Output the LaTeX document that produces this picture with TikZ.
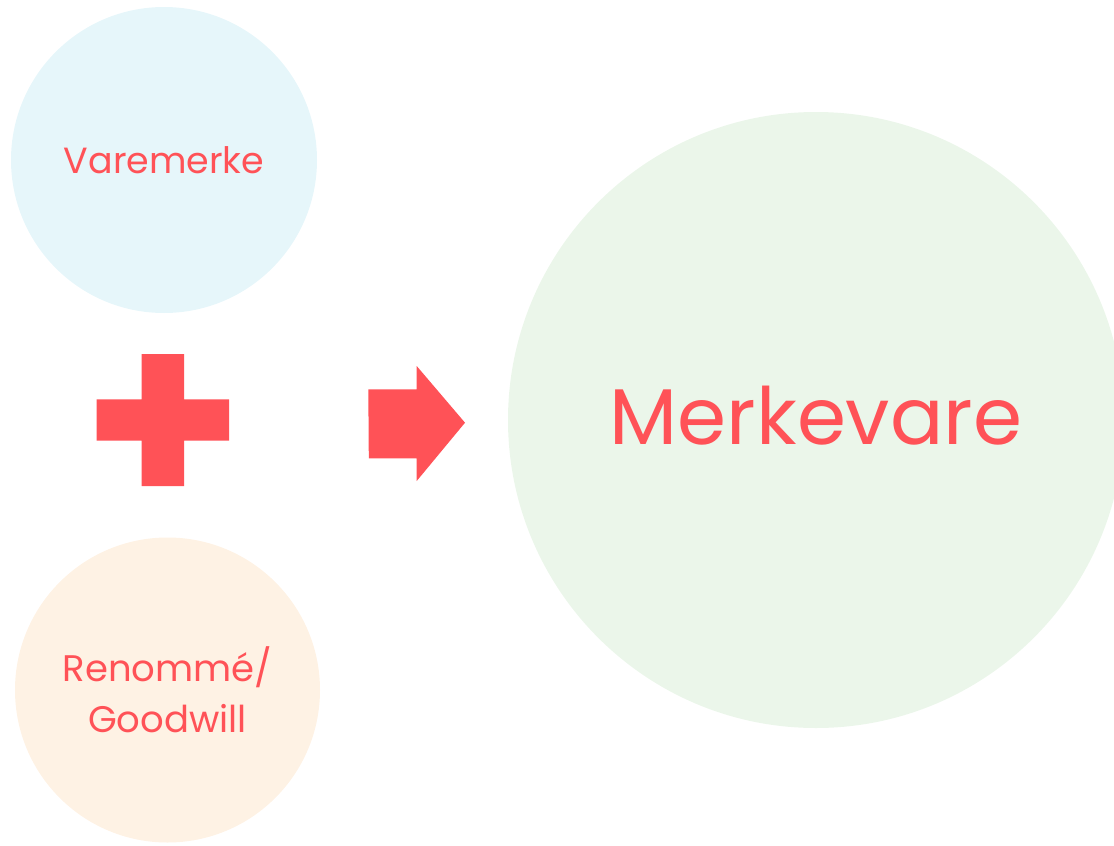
\documentclass[tikz,border=0pt]{standalone}
\usepackage{fontspec}
\setmainfont{Poppins}
\definecolor{brand}{HTML}{FF5257}
\definecolor{cblue}{HTML}{E6F6FA}
\definecolor{cpeach}{HTML}{FEF2E4}
\definecolor{cgreen}{HTML}{EBF6EA}
\begin{document}
\begin{tikzpicture}[x=1pt,y=-1pt,
  bubble/.style={circle,inner sep=0pt,text=brand,align=center},
  shapefill/.style={fill=brand,draw=none}]
\useasboundingbox (0,0) rectangle (1114,846);
\begin{scope}
\clip (0,0) rectangle (1114,846);
\node[bubble,fill=cblue,minimum size=306pt] (vm) at (164,160) {};
\node[bubble,fill=cpeach,minimum size=305pt] (rg) at (167.5,690) {};
\node[bubble,fill=cgreen,minimum size=616pt] (mv) at (816,420) {};
\end{scope}
\node[text=brand,font=\fontsize{36.4}{40}\selectfont] (vmt) at (164,160) {Varemerke};
\node[text=brand,align=center,font=\fontsize{37}{51}\selectfont] (rgt) at (167.5,690) {Renommé/\\Goodwill};
\node[text=brand,font=\fontsize{79}{90}\selectfont] (mvt) at (816,416) {Merkevare};
\fill[shapefill] (141.7,354) -- (184,354) -- (184,399.3) -- (229,399.3) -- (229,440.7) -- (184,440.7) -- (184,486) -- (141.7,486) -- (141.7,440.7) -- (96.7,440.7) -- (96.7,399.3) -- (141.7,399.3) -- cycle;
\fill[shapefill] (368.3,389.3) -- (416.7,389.3) -- (416.7,366) -- (465,422.7) -- (416.7,481) -- (416.7,458.3) -- (368.8,458.3) -- cycle;
\end{tikzpicture}
\end{document}
